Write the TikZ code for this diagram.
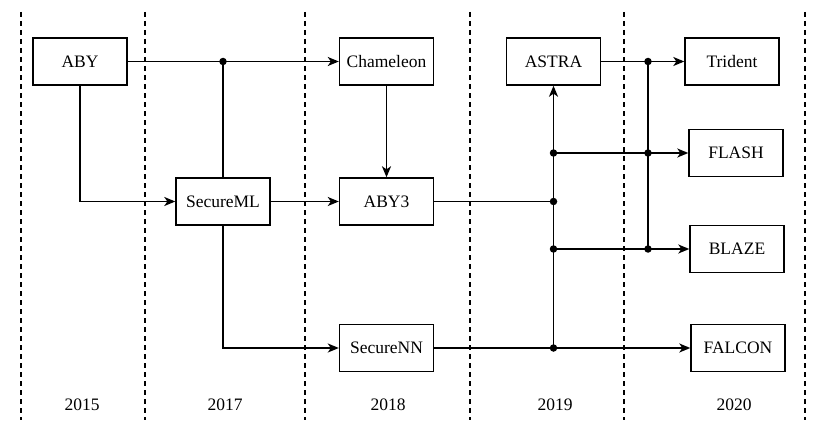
\documentclass[tikz,border=0pt]{standalone}
\usepackage{fontspec}
\setmainfont{Liberation Serif}
\usetikzlibrary{arrows.meta}
\begin{document}
\begin{tikzpicture}[x=1pt,y=-1pt,
 box/.style={draw,line width=1.4pt,minimum width=94pt,minimum height=47pt,inner sep=0pt,font=\fontsize{17.5}{19}\selectfont},
 conn/.style={line width=1.5pt},
 arr/.style={conn,-{Stealth[length=11pt,width=9pt,inset=3pt]}},
 sep/.style={line width=1.1pt,dash pattern=on 5pt off 4pt},
 dot/.style={circle,fill,inner sep=0pt,minimum size=7.5pt},
 yr/.style={font=\fontsize{17.5}{19}\selectfont}]
\useasboundingbox (0,0) rectangle (832,436);
% separators
\foreach \x in {21,145,305,470,624,805} \draw[sep] (\x,12) -- (\x,420);
% boxes
\node[box] (ABY) at (80,61.5) {ABY};
\node[box] (Chameleon) at (386.5,61.5) {Chameleon};
\node[box] (SecureML) at (223,201.5) {SecureML};
\node[box] (ABY3) at (386.5,201.5) {ABY3};
\node[box] (SecureNN) at (386.5,348) {SecureNN};
\node[box] (ASTRA) at (553.5,61.5) {ASTRA};
\node[box] (Trident) at (732,61.5) {Trident};
\node[box] (FLASH) at (736,153) {FLASH};
\node[box] (BLAZE) at (737,249) {BLAZE};
\node[box] (FALCON) at (738,348) {FALCON};
% years
\node[yr] (y2015) at (82,405) {2015};
\node[yr] (y2017) at (225,405) {2017};
\node[yr] (y2018) at (388,405) {2018};
\node[yr] (y2019) at (555,405) {2019};
\node[yr] (y2020) at (734,405) {2020};
% junctions
\coordinate (d1) at (SecureML.north |- ABY.east);
\coordinate (d2) at (ASTRA.south |- FLASH.west);
\coordinate (d3) at (ASTRA.south |- ABY3.east);
\coordinate (d4) at (ASTRA.south |- BLAZE.west);
\coordinate (d5) at (ASTRA.south |- SecureNN.east);
\coordinate (e1) at (648,61.5);
\coordinate (e2) at (e1 |- FLASH.west);
\coordinate (e3) at (e1 |- BLAZE.west);
% connectors
\draw[arr] (ABY.east) -- (Chameleon.west);
\draw[conn] (SecureML.north) -- (d1);
\draw[arr] (ABY.south) |- (SecureML.west);
\draw[arr] (SecureML.east) -- (ABY3.west);
\draw[arr] (Chameleon.south) -- (ABY3.north);
\draw[arr] (SecureML.south) |- (SecureNN.west);
\draw[arr] (SecureNN.east) -- (FALCON.west);
\draw[conn] (ABY3.east) -- (d3);
\draw[arr] (d5) -- (ASTRA.south);
\draw[arr] (d2) -- (FLASH.west);
\draw[arr] (d4) -- (BLAZE.west);
\draw[arr] (ASTRA.east) -- (Trident.west);
\draw[conn] (e1) -- (e3);
% dots
\foreach \c in {d1,d2,d3,d4,d5,e1,e2,e3} \node[dot] at (\c) {};
\end{tikzpicture}
\end{document}
